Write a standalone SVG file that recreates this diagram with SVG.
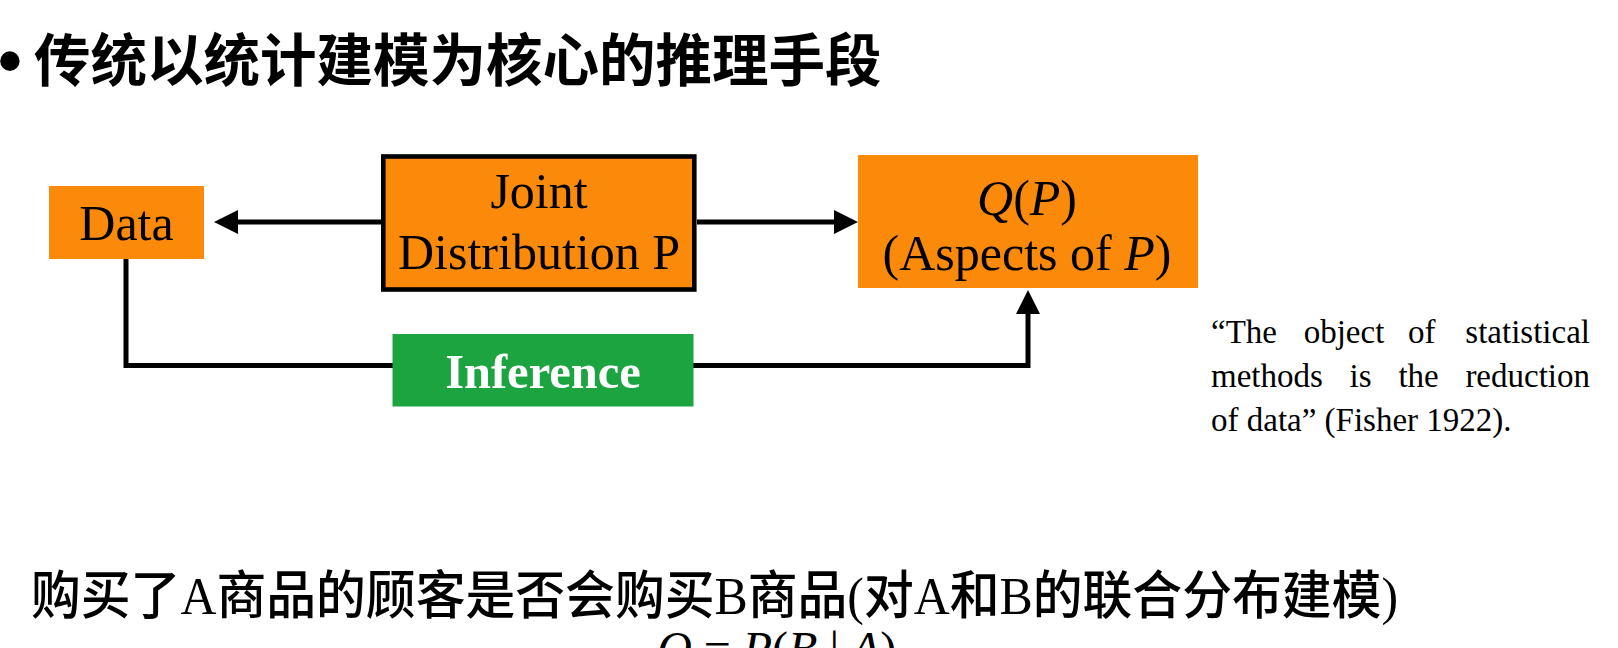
<svg xmlns="http://www.w3.org/2000/svg" width="1618" height="648" viewBox="0 0 1618 648">
<style>
.box{fill:#FB8A0A;}
.serif{font-family:"Liberation Serif","Times New Roman",serif;fill:#000;}
.lbl{font-size:50px;text-anchor:middle;}
.it{font-style:italic;}
.conn{fill:none;stroke:#000;stroke-width:5;}
.quote{font-family:"Liberation Serif","Times New Roman",serif;font-size:33px;fill:#000;}
.cjk{font-family:"Liberation Serif","Noto Sans CJK SC",sans-serif;}
</style>
<defs>
<marker id="arr" markerUnits="userSpaceOnUse" markerWidth="24" markerHeight="24" refX="0" refY="12" orient="auto" viewBox="0 0 24 24">
<path d="M0,0 L24,12 L0,24 z" fill="#000"/>
</marker>
</defs>
<rect width="1618" height="648" fill="#fff"/>
<g id="title">
<text x="-2" y="84" font-family="'Liberation Sans',sans-serif" font-size="68" font-weight="bold">•</text>
<text x="34" y="81" font-family="'Noto Sans CJK SC',sans-serif" font-size="56.5" font-weight="bold">传统以统计建模为核心的推理手段</text>
</g>
<g id="connectors">
<path class="conn" d="M381,222 H238" marker-end="url(#arr)"/>
<path class="conn" d="M697,222 H834" marker-end="url(#arr)"/>
<path class="conn" d="M126,259 V365.5 H1028 V314" marker-end="url(#arr)"/>
</g>
<g id="data">
<rect class="box" x="49" y="186" width="155" height="73"/>
<text class="serif lbl" x="126.5" y="240">Data</text>
</g>
<g id="joint">
<rect class="box" x="383.3" y="156.5" width="311" height="133" stroke="#000" stroke-width="4.6"/>
<text class="serif lbl" x="539" y="208" font-size="49">Joint</text>
<text class="serif lbl" x="539" y="269" font-size="49">Distribution P</text>
</g>
<g id="qp">
<rect class="box" x="858" y="155" width="340" height="133"/>
<text class="serif lbl" x="1027" y="215"><tspan class="it">Q</tspan>(<tspan class="it">P</tspan>)</text>
<text class="serif lbl" x="1027" y="270">(Aspects of <tspan class="it">P</tspan>)</text>
</g>
<g id="inference">
<rect x="392.5" y="334" width="301" height="72.5" fill="#1BA43F"/>
<text x="543" y="388" font-family="'Liberation Serif','Times New Roman',serif" font-size="48.5" font-weight="bold" fill="#fff" text-anchor="middle">Inference</text>
</g>
<g id="quote">
<text class="quote" y="343"><tspan x="1211">“The</tspan><tspan x="1303.7">object</tspan><tspan x="1408">of</tspan><tspan x="1590" text-anchor="end">statistical</tspan></text>
<text class="quote" y="387"><tspan x="1211">methods</tspan><tspan x="1349.6">is</tspan><tspan x="1398.4">the</tspan><tspan x="1590" text-anchor="end">reduction</tspan></text>
<text class="quote" x="1211" y="431">of data” (Fisher 1922).</text>
</g>
<g id="question">
<text class="cjk" x="31" y="614" font-size="52" font-weight="500" fill="#000" textLength="1367" lengthAdjust="spacingAndGlyphs">购买了A商品的顾客是否会购买B商品(对A和B的联合分布建模)</text>
<text x="657" y="665" font-family="'Liberation Serif','Times New Roman',serif" font-size="48" fill="#000"><tspan font-style="italic">Q</tspan> = <tspan font-style="italic">P</tspan>(<tspan font-style="italic">B</tspan> | <tspan font-style="italic">A</tspan>)</text>
</g>
</svg>
